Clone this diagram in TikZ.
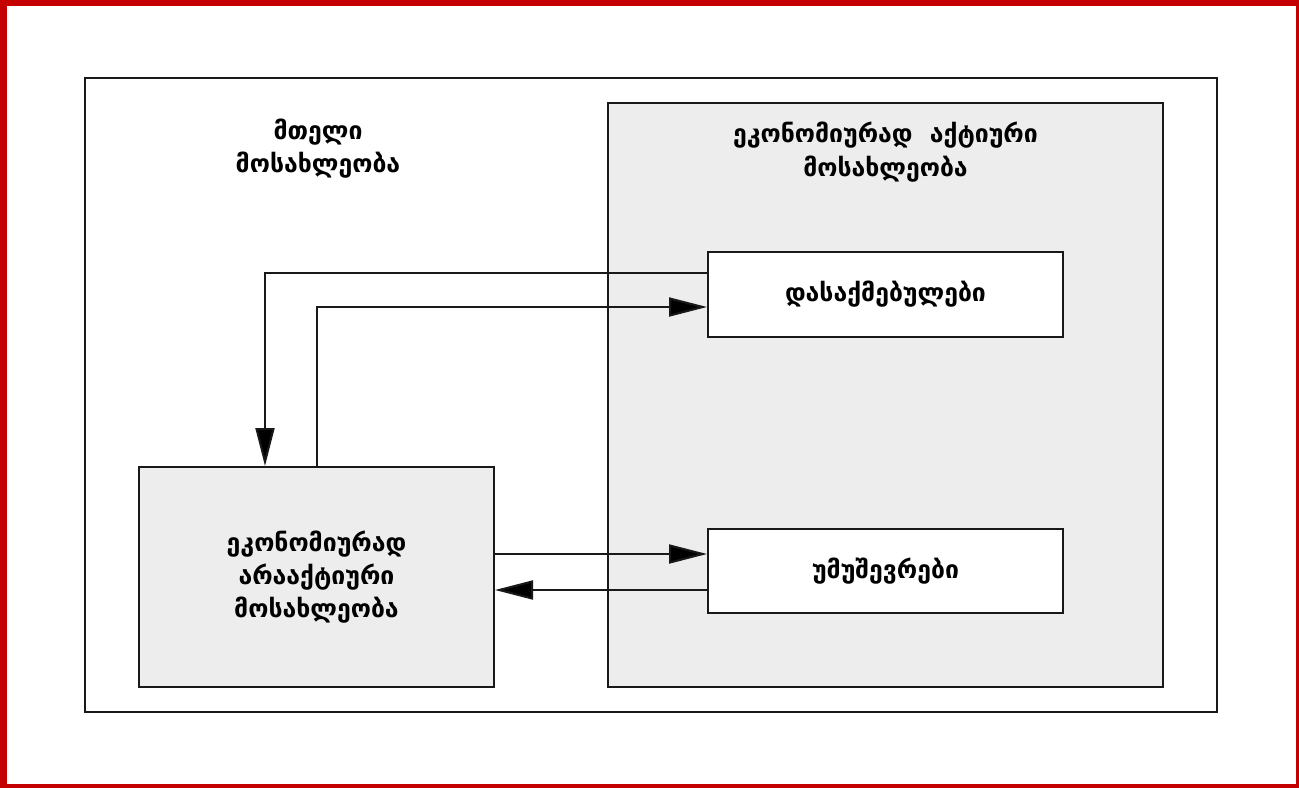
\documentclass[tikz,border=0pt]{standalone}
\usepackage{fontspec}
\setmainfont{DejaVu Sans}
\usetikzlibrary{arrows.meta}
\definecolor{frame}{HTML}{C40000}
\definecolor{panel}{HTML}{EDEDED}
\tikzset{
  box/.style={draw=black!90, line width=1pt, rectangle, inner sep=0pt},
  lbl/.style={align=center, font=\fontsize{12.4}{16.6}\selectfont\bfseries, inner sep=0pt},
  conn/.style={draw=black!90, line width=1pt},
  arr/.style={conn, -{Triangle[length=19pt,width=9.5pt,fill=black]}}
}
\begin{document}
\begin{tikzpicture}[x=0.5pt,y=-0.5pt]
\useasboundingbox (0,0) rectangle (1299,787);
\clip (0,0) rectangle (1299,787);
\fill[white] (0,0) rectangle (1299,787);
\draw[frame, line width=3.25pt] (3.5,3.2) rectangle (1299,787);
% outer box
\node[box, fill=white, minimum width=566pt, minimum height=317pt] (all) at (651,395) {};
\node[lbl] (alltxt) at (318,149) {მთელი\\მოსახლეობა};
% active panel
\node[box, fill=panel, minimum width=277.5pt, minimum height=292pt] (act) at (885.5,395) {};
\node[lbl] (acttxt) at (885.5,152) {ეკონომიურად\ \ აქტიური\\მოსახლეობა};
% employed
\node[box, fill=white, minimum width=177.5pt, minimum height=42.5pt, lbl] (emp) at (885.5,294.5) {დასაქმებულები};
% unemployed
\node[box, fill=white, minimum width=177.5pt, minimum height=42pt, lbl] (unemp) at (885.5,571) {უმუშევრები};
% inactive
\node[box, fill=panel, minimum width=177.5pt, minimum height=110pt, lbl] (inact) at (316.5,577) {ეკონომიურად\\არააქტიური\\მოსახლეობა};
% connectors
\draw[arr] ([yshift=10.75pt]emp.west) -| ([xshift=-25.75pt]inact.north);
\draw[arr] (inact.north) |- ([yshift=-6.25pt]emp.west);
\draw[arr] ([yshift=8.5pt]unemp.west -| inact.east) -- ([yshift=8.5pt]unemp.west);
\draw[arr] ([yshift=-9.5pt]unemp.west) -- ([yshift=-9.5pt]unemp.west -| inact.east);
\end{tikzpicture}
\end{document}
